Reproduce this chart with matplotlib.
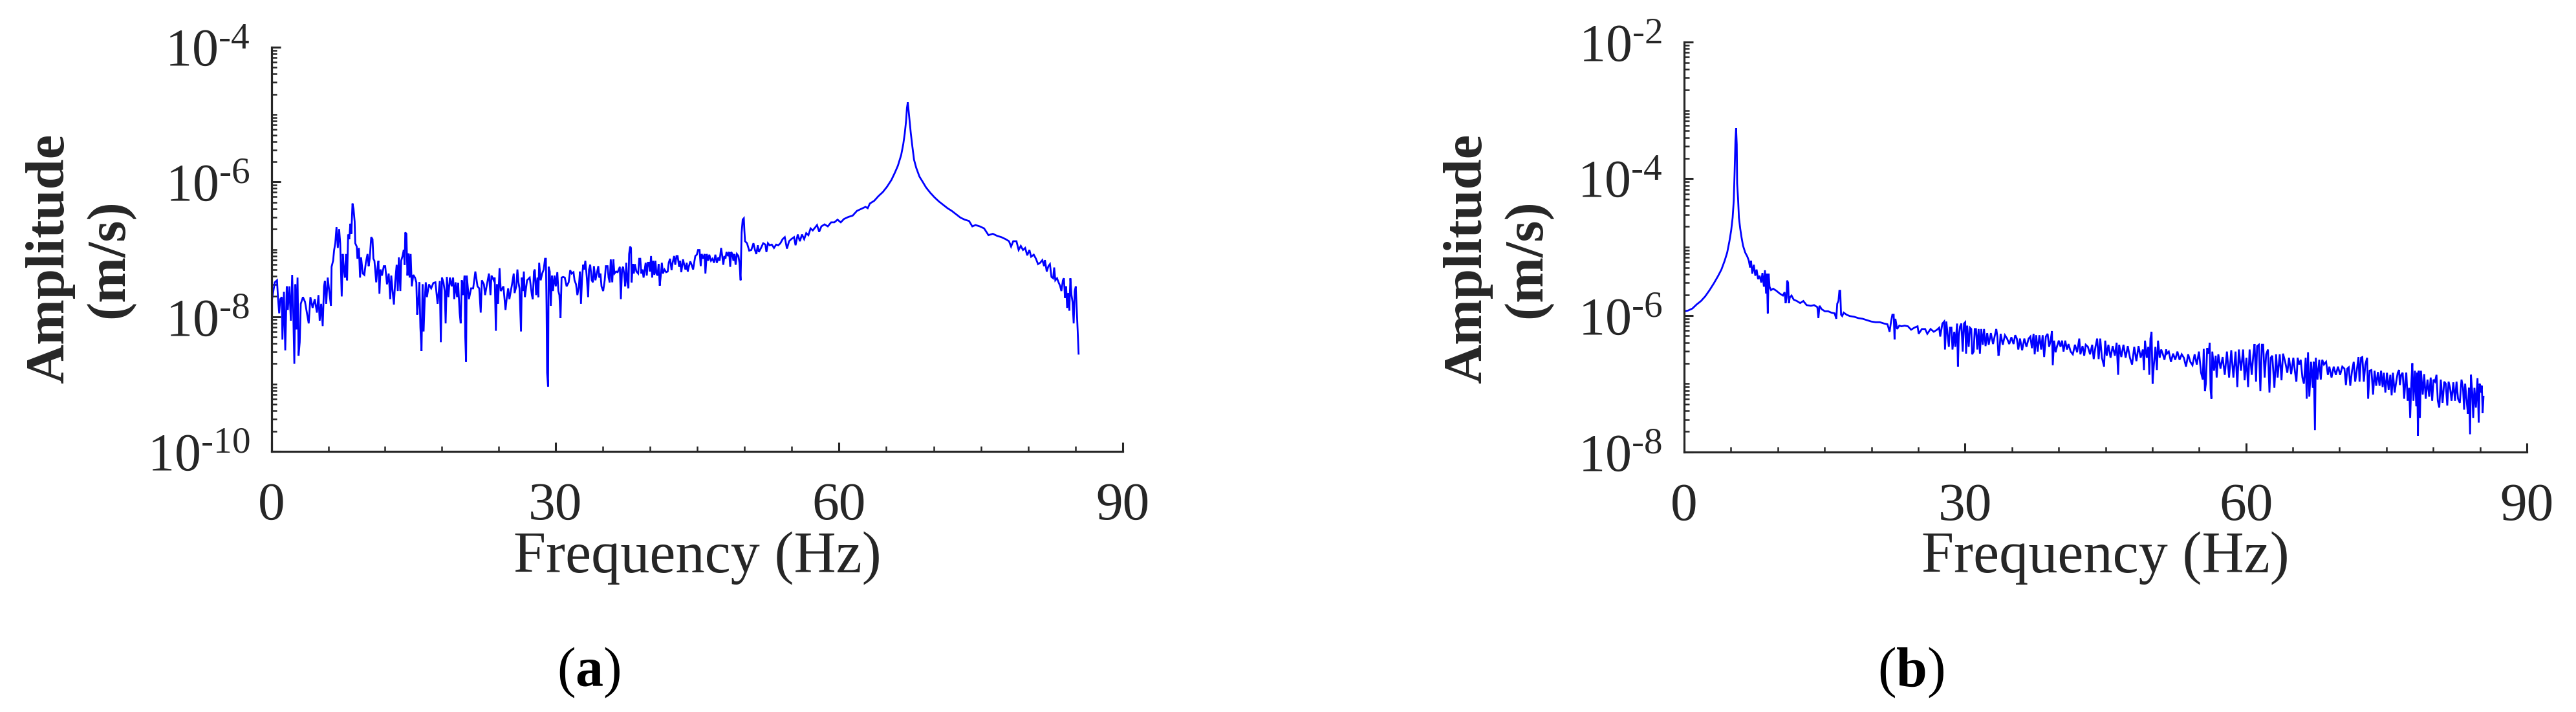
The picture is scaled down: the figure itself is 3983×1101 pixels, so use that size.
import numpy as np
import matplotlib
matplotlib.use("Agg")
import matplotlib.pyplot as plt
from matplotlib.ticker import LogLocator, FixedLocator, NullFormatter

# ---------------- data ----------------
# Panel (a): frequency (Hz) and log10 of amplitude (m/s)
a_freq = [
    0.00, 0.11, 0.34, 0.57, 0.68, 0.80, 0.91, 1.07, 1.14, 1.30, 1.44, 1.60, 1.71, 1.87, 2.03, 2.17,
    2.28, 2.40, 2.51, 2.62, 2.74, 2.85, 2.97, 3.08, 3.31, 3.53, 3.76, 3.92, 4.10, 4.33, 4.56, 4.79,
    4.95, 5.08, 5.24, 5.40, 5.54, 5.63, 5.77, 5.93, 6.09, 6.27, 6.34, 6.50, 6.61, 6.73, 6.86, 7.00,
    7.14, 7.25, 7.41, 7.52, 7.64, 7.75, 7.86, 7.98, 8.09, 8.21, 8.32, 8.43, 8.55, 8.66, 8.78, 8.84,
    9.00, 9.07, 9.23, 9.35, 9.46, 9.64, 9.80, 9.96, 10.14, 10.26, 10.37, 10.53, 10.67, 10.76, 10.87,
    11.06, 11.17, 11.29, 11.40, 11.51, 11.67, 11.86, 12.01, 12.20, 12.38, 12.54, 12.65, 12.79, 12.93,
    13.06, 13.22, 13.34, 13.45, 13.61, 13.70, 13.84, 13.97, 14.07, 14.13, 14.25, 14.36, 14.48, 14.59,
    14.70, 14.82, 14.98, 15.16, 15.30, 15.39, 15.53, 15.62, 15.73, 15.85, 15.96, 16.07, 16.19, 16.30,
    16.42, 16.64, 16.87, 17.10, 17.32, 17.55, 17.78, 17.89, 18.01, 18.17, 18.30, 18.40, 18.53, 18.69,
    18.85, 19.04, 19.19, 19.31, 19.45, 19.61, 19.72, 19.88, 19.99, 20.11, 20.24, 20.40, 20.47, 20.56,
    20.63, 20.86, 21.09, 21.31, 21.54, 21.77, 21.95, 22.11, 22.23, 22.45, 22.57, 22.73, 22.98, 23.14,
    23.25, 23.48, 23.59, 23.71, 23.82, 23.94, 24.10, 24.23, 24.51, 24.73, 24.85, 25.01, 25.14, 25.42,
    25.60, 25.69, 25.87, 25.99, 26.10, 26.21, 26.37, 26.46, 26.56, 26.67, 26.78, 27.01, 27.29, 27.52,
    27.61, 27.74, 27.83, 27.97, 28.11, 28.20, 28.29,
    28.45, 28.61, 28.77, 28.91, 29.00, 29.07, 29.13, 29.23, 29.29, 29.41, 29.52, 29.64, 29.75, 29.91,
    30.05, 30.21, 30.32, 30.43, 30.55, 30.66, 30.82, 31.00, 31.19, 31.41, 31.57, 31.73, 31.92, 32.03,
    32.19, 32.33, 32.49, 32.60, 32.71, 32.83, 32.94, 33.06, 33.17, 33.33, 33.47, 33.56, 33.69, 33.85,
    33.97, 34.08, 34.24, 34.38, 34.54, 34.65, 34.77, 34.88, 35.06, 35.22, 35.34, 35.52, 35.63, 35.75,
    35.86, 36.02, 36.13, 36.25, 36.43, 36.59, 36.82, 36.93, 37.05, 37.16, 37.27, 37.39, 37.50, 37.62,
    37.73, 37.80, 37.91, 38.00, 38.07, 38.19, 38.30, 38.41, 38.57, 38.76, 38.87, 38.98, 39.10, 39.21,
    39.33, 39.55, 39.67, 39.78, 39.90, 40.01, 40.12, 40.24, 40.35, 40.47, 40.58, 40.69, 40.81, 40.92,
    41.04, 41.15, 41.26, 41.38, 41.54, 41.72, 41.88, 41.99, 42.13, 42.29, 42.40, 42.56, 42.68, 42.81,
    42.93, 43.09, 43.20, 43.32, 43.50, 43.66, 43.77, 43.89, 44.00, 44.11, 44.27, 44.41, 44.57, 44.68,
    44.80, 44.96, 45.09, 45.25, 45.37, 45.48, 45.64, 45.78, 45.87, 46.01, 46.17, 46.28, 46.46, 46.62,
    46.78, 46.92, 47.08, 47.24, 47.37, 47.53, 47.65, 47.76, 47.88, 47.99, 48.10, 48.26, 48.38, 48.49,
    48.60, 48.72, 48.83, 48.95, 49.06, 49.20, 49.36, 49.47, 49.59, 49.65, 49.70, 49.81, 49.93, 49.99,
    50.06, 50.27, 50.50, 50.72, 50.95, 51.11, 51.25, 51.41, 51.52, 51.75, 51.98, 52.21, 52.32, 52.48,
    52.66, 52.89, 53.12, 53.35, 53.58, 53.80, 54.03, 54.26, 54.49, 54.72, 54.94, 55.24, 55.40, 55.63,
    55.86, 56.08, 56.31,
    56.53, 56.76, 56.99, 57.22, 57.45, 57.67, 57.90, 58.13, 58.47, 58.81, 59.16, 59.50, 59.84, 60.18,
    60.52, 60.98, 61.44, 61.89, 62.35, 62.80, 63.03, 63.26, 63.72, 64.17, 64.63, 65.08, 65.54, 65.88,
    66.22, 66.57, 66.79, 66.95, 67.09, 67.18, 67.27, 67.36, 67.46, 67.59, 67.75, 67.93, 68.16, 68.50,
    68.85, 69.19, 69.64, 70.10, 70.56, 71.01, 71.47, 71.92, 72.38, 72.84, 73.29, 73.75, 74.09, 74.43,
    74.89, 75.34, 75.80, 76.26, 76.71, 77.17, 77.62, 77.97, 78.19, 78.42, 78.76, 78.99, 79.22, 79.45,
    79.68, 79.90, 80.13, 80.31, 80.59, 80.82, 81.04, 81.27, 81.50, 81.68, 81.77, 81.96, 82.14, 82.30,
    82.46, 82.64, 82.75, 82.87, 83.05, 83.21, 83.37, 83.51, 83.67, 83.78, 83.89, 84.01, 84.12, 84.24,
    84.35, 84.46, 84.58, 84.69, 84.81, 84.92, 85.03, 85.15, 85.24, 85.33,
]
a_log10_amp = [
    -7.78, -7.68, -7.49, -7.46, -7.74, -7.95, -7.74, -7.71, -8.34, -7.63, -8.50, -7.55, -7.90, -7.55, -8.06, -7.38,
    -7.90, -8.70, -7.52, -8.19, -7.42, -8.58, -8.38, -7.81, -7.71, -7.78, -7.97, -8.10, -7.71, -7.87, -7.74, -7.94,
    -7.68, -8.06, -7.81, -8.14, -7.55, -7.47, -7.81, -7.42, -7.62, -7.84, -7.26, -7.17, -7.01, -6.91, -6.67, -6.98,
    -6.70, -6.91, -7.70, -7.07, -7.30, -7.42, -7.07, -7.46, -6.78, -6.85, -6.62, -6.77, -6.32, -6.40, -6.59, -6.91,
    -6.96, -7.14, -6.98, -7.42, -7.12, -7.36, -7.38, -7.20, -7.07, -7.25, -7.14, -6.82, -6.85, -7.14, -7.17,
    -7.49, -7.30, -7.17, -7.66, -7.30, -7.39, -7.25, -7.25, -7.52, -7.36, -7.74, -7.39, -7.62, -7.82,
    -7.49, -7.23, -7.62, -7.12, -7.62, -7.17, -7.10, -7.01, -7.23, -6.75, -6.77, -7.39, -7.06, -7.42,
    -7.07, -7.55, -7.38, -7.42, -7.49, -7.97, -7.74, -7.49, -8.16, -8.51, -7.52, -8.22, -7.74, -7.49,
    -7.71, -7.52, -7.58, -7.50, -7.49, -7.81, -7.47, -8.38, -7.42, -7.49, -7.62, -8.10, -7.41, -7.71,
    -7.42, -7.55, -7.42, -7.74, -7.49, -7.71, -7.50, -7.94, -8.10, -7.46, -7.68, -7.39, -8.29, -8.67,
    -7.39, -7.74, -7.58, -7.58, -7.33, -7.55, -7.58, -7.94, -7.46, -7.52, -7.68, -7.55, -7.36, -7.68,
    -7.39, -7.46, -7.42, -8.21, -7.52, -7.81, -7.28, -7.62, -7.55, -7.90, -7.74, -7.58, -7.74, -7.52,
    -7.36, -7.65, -7.55, -7.30, -7.49, -7.58, -8.22, -7.42, -7.62, -7.33, -7.71, -7.46, -7.42, -7.68,
    -7.74, -7.33, -7.30, -7.68, -7.42, -7.71, -7.20,
    -7.46, -7.36, -7.30, -7.14, -7.14, -7.84, -8.83, -9.04, -7.26, -7.33, -7.84, -7.39, -7.62, -7.39,
    -7.55, -7.34, -7.62, -7.68, -8.02, -7.42, -7.41, -7.42, -7.55, -7.49, -7.31, -7.36, -7.34, -7.46,
    -7.52, -7.68, -7.55, -7.33, -7.81, -7.42, -7.23, -7.30, -7.17, -7.42, -7.71, -7.30, -7.23, -7.46,
    -7.49, -7.25, -7.46, -7.36, -7.25, -7.42, -7.36, -7.55, -7.62, -7.46, -7.25, -7.25, -7.42, -7.49,
    -7.15, -7.49, -7.15, -7.36, -7.33, -7.34, -7.26, -7.74, -7.30, -7.26, -7.36, -7.55, -7.20, -7.49,
    -7.58, -7.07, -6.96, -6.98, -7.49, -7.22, -7.36, -7.22, -7.33, -7.36, -7.14, -7.14, -7.36, -7.30,
    -7.42, -7.20, -7.39, -7.20, -7.20, -7.33, -7.10, -7.42, -7.17, -7.38, -7.17, -7.36, -7.39, -7.22,
    -7.54, -7.39, -7.20, -7.36, -7.30, -7.34, -7.33, -7.20, -7.14, -7.31, -7.20, -7.10, -7.23, -7.10,
    -7.10, -7.26, -7.17, -7.34, -7.15, -7.25, -7.30, -7.20, -7.33, -7.26, -7.18, -7.23, -7.30, -7.20,
    -7.10, -7.08, -7.01, -7.01, -7.25, -7.07, -7.14, -7.07, -7.36, -7.07, -7.17, -7.08, -7.17, -7.14,
    -7.20, -7.08, -7.20, -7.12, -7.17, -6.98, -7.10, -7.23, -7.10, -7.14, -7.04, -7.10, -7.04, -7.26,
    -7.04, -7.07, -7.17, -7.07, -7.23, -7.07, -7.10, -7.20, -7.46, -7.04, -6.75, -6.56, -6.54, -6.72,
    -6.88, -6.91, -7.02, -7.01, -6.91, -7.01, -7.07, -6.94, -7.04, -6.98, -6.91, -6.93, -7.04, -6.91,
    -6.94, -6.93, -6.98, -6.93, -6.94, -6.91, -6.85, -6.82, -6.99, -6.88, -6.85, -6.82, -6.94, -6.78,
    -6.88, -6.78, -6.85,
    -6.76, -6.79, -6.69, -6.72, -6.68, -6.64, -6.74, -6.66, -6.63, -6.66, -6.60, -6.60, -6.56, -6.60,
    -6.55, -6.52, -6.50, -6.43, -6.40, -6.37, -6.39, -6.32, -6.28, -6.21, -6.15, -6.07, -5.97, -5.87,
    -5.76, -5.60, -5.44, -5.28, -5.09, -4.90, -4.82, -4.95, -5.09, -5.28, -5.47, -5.67, -5.79, -5.92,
    -6.00, -6.08, -6.16, -6.23, -6.29, -6.34, -6.39, -6.43, -6.48, -6.53, -6.56, -6.58, -6.66, -6.64,
    -6.66, -6.69, -6.79, -6.77, -6.80, -6.82, -6.85, -6.88, -6.96, -6.88, -6.88, -7.01, -6.95, -7.01,
    -6.98, -7.09, -7.01, -7.11, -7.08, -7.14, -7.22, -7.20, -7.16, -7.25, -7.16, -7.33, -7.25, -7.22,
    -7.41, -7.43, -7.27, -7.46, -7.43, -7.49, -7.54, -7.62, -7.46, -7.43, -7.72, -7.55, -7.87, -7.65,
    -7.91, -7.43, -7.68, -7.78, -8.10, -7.62, -7.55, -7.94, -8.23, -8.55,
]

# Panel (b): frequency (Hz) and log10 of amplitude (m/s)
b_freq = [
    0.00, 0.41, 0.88, 1.34, 1.80, 2.26, 2.72, 3.18, 3.64, 3.98, 4.33, 4.60, 4.83, 5.02, 5.18, 5.30,
    5.39, 5.48, 5.55, 5.62, 5.66, 5.76, 5.85, 5.99, 6.12, 6.29, 6.52, 6.75, 6.91, 7.04, 7.14, 7.28,
    7.44, 7.60, 7.74, 7.90, 8.06, 8.24, 8.36, 8.52, 8.63, 8.75, 8.84, 8.93, 9.03, 9.12, 9.28, 9.51,
    9.85, 10.20, 10.55, 10.73, 10.84, 10.94, 11.00, 11.10, 11.19, 11.28, 11.47, 11.70, 12.04, 12.39,
    12.73, 13.08, 13.54, 13.88, 14.23, 14.34, 14.46, 14.69, 15.03, 15.38, 15.72, 16.07, 16.25, 16.35,
    16.48, 16.58, 16.67, 16.76, 16.88, 17.04, 17.34, 17.68, 18.14, 18.60, 19.06, 19.52, 19.98, 20.44,
    20.90, 21.37, 21.71, 21.78,
    21.94, 22.10, 22.24, 22.38, 22.47, 22.56, 22.75, 22.98, 23.21, 23.55, 23.90, 24.24, 24.59, 24.93,
    25.05, 25.39, 25.74, 25.97, 26.32, 26.66, 27.01, 27.24, 27.35, 27.58, 27.77, 27.86, 28.00, 28.11,
    28.27, 28.39, 28.55, 28.66, 28.85, 28.96, 29.15, 29.24, 29.33, 29.47, 29.61, 29.75, 29.89, 30.02,
    30.11, 30.23, 30.39, 30.53, 30.67, 30.76, 30.92, 31.04, 31.17, 31.31, 31.45, 31.59, 31.73, 31.89,
    32.03, 32.19, 32.37, 32.53, 32.76, 32.99, 33.22, 33.34, 33.45, 33.57, 33.68, 33.80, 34.03, 34.26,
    34.49, 34.72, 34.95, 35.18, 35.36, 35.53, 35.69, 35.87, 36.10, 36.33, 36.56, 36.79, 36.98, 37.14,
    37.32, 37.44, 37.60, 37.76, 37.94, 38.13, 38.29, 38.45, 38.63, 38.82, 38.98, 39.14, 39.28, 39.37,
    39.51, 39.67, 39.83, 40.01, 40.20, 40.36, 40.52, 40.70, 40.89, 41.05, 41.28, 41.51, 41.74, 41.97,
    42.20, 42.32, 42.55, 42.73, 42.89, 43.12, 43.35, 43.58, 43.74, 43.93, 44.11, 44.27, 44.44, 44.62,
    44.85, 44.97, 45.13, 45.31, 45.54, 45.77, 46.00, 46.19, 46.35, 46.46, 46.69, 46.92, 47.15, 47.38,
    47.61, 47.84, 48.07, 48.30, 48.53, 48.76, 48.99, 49.11, 49.22, 49.41, 49.57, 49.68, 49.80, 49.92,
    50.03, 50.15, 50.33, 50.49, 50.61, 50.79, 50.95, 51.11, 51.30, 51.48,
    51.57, 51.76, 51.99, 52.22, 52.45, 52.68, 52.91, 53.14, 53.37, 53.60, 53.83, 54.06, 54.29, 54.52,
    54.75, 54.98, 55.21, 55.39, 55.49, 55.62, 55.72, 55.86, 56.02, 56.13, 56.22, 56.31, 56.41, 56.59,
    56.77, 56.87, 57.05, 57.28, 57.51, 57.74, 57.97, 58.20, 58.43, 58.66, 58.89, 59.08, 59.24, 59.47,
    59.70, 59.86, 60.05, 60.23, 60.39, 60.62, 60.78, 60.92, 61.08, 61.19, 61.38, 61.54, 61.70, 61.84,
    62.00, 62.16, 62.35, 62.51, 62.65, 62.81, 63.04, 63.22, 63.38, 63.61, 63.80, 63.96, 64.19, 64.42,
    64.60, 64.83, 65.06, 65.25, 65.39, 65.52, 65.69, 65.85, 66.03, 66.19, 66.38, 66.49, 66.63, 66.77,
    66.95, 67.14, 67.23, 67.37, 67.46, 67.64, 67.83, 67.99, 68.15, 68.33, 68.56, 68.75, 68.91, 69.14,
    69.37, 69.60, 69.83, 70.06, 70.29, 70.52, 70.68, 70.82, 70.98, 71.14, 71.33, 71.51, 71.67, 71.83,
    72.02, 72.13, 72.29, 72.43, 72.59, 72.75, 72.94, 73.05, 73.21, 73.40, 73.58, 73.74, 73.91, 74.09,
    74.27, 74.43, 74.60, 74.73, 74.89, 75.06, 75.24, 75.42, 75.56, 75.70, 75.88, 76.05, 76.21, 76.35,
    76.44, 76.58, 76.74, 76.90, 77.04, 77.13, 77.27, 77.43, 77.54, 77.66, 77.77, 77.89, 78.05, 78.19,
    78.28, 78.37, 78.46, 78.58, 78.69, 78.88, 79.04, 79.20, 79.39, 79.57, 79.73, 79.89, 80.03, 80.19,
    80.35, 80.49, 80.65, 80.81, 81.00, 81.18, 81.34, 81.50, 81.64, 81.80, 81.96, 82.15, 82.33, 82.49,
    82.65, 82.84, 83.02, 83.18, 83.30, 83.41, 83.57, 83.71, 83.81, 83.94, 84.03, 84.17, 84.27, 84.40,
    84.56, 84.73, 84.86, 84.96, 85.09, 85.19, 85.28, 85.37,
]
b_log10_amp = [
    -5.94, -5.93, -5.90, -5.84, -5.79, -5.72, -5.63, -5.53, -5.42, -5.33, -5.20, -5.08, -4.92, -4.76, -4.57, -4.32,
    -3.91, -3.44, -3.26, -3.50, -4.07, -4.29, -4.57, -4.73, -4.85, -4.98, -5.08, -5.14, -5.20, -5.30, -5.20, -5.39,
    -5.26, -5.42, -5.33, -5.47, -5.42, -5.52, -5.38, -5.58, -5.34, -5.68, -5.39, -5.97, -5.39, -5.58, -5.63, -5.61,
    -5.64, -5.68, -5.71, -5.66, -5.82, -5.74, -5.49, -5.52, -5.82, -5.74, -5.71, -5.77, -5.79, -5.82,
    -5.79, -5.85, -5.86, -5.85, -5.88, -6.04, -5.86, -5.91, -5.94, -5.94, -5.96, -5.97, -6.05, -5.83,
    -5.79, -5.64, -5.64, -5.99, -6.01, -5.96, -5.99, -6.01, -6.02, -6.04, -6.05, -6.07, -6.09, -6.10,
    -6.10, -6.12, -6.13, -6.16,
    -6.24, -6.09, -5.99, -5.99, -6.35, -6.05, -6.20, -6.15, -6.16, -6.15, -6.16, -6.21, -6.18, -6.16,
    -6.27, -6.20, -6.20, -6.27, -6.20, -6.24, -6.21, -6.18, -6.31, -6.12, -6.09, -6.50, -6.09, -6.24,
    -6.46, -6.18, -6.18, -6.50, -6.24, -6.46, -6.12, -6.75, -6.31, -6.16, -6.12, -6.53, -6.12, -6.10,
    -6.56, -6.15, -6.46, -6.18, -6.20, -6.57, -6.53, -6.20, -6.20, -6.50, -6.20, -6.56, -6.20, -6.43,
    -6.20, -6.45, -6.26, -6.43, -6.26, -6.42, -6.27, -6.20, -6.31, -6.59, -6.50, -6.27, -6.43, -6.29,
    -6.34, -6.42, -6.32, -6.42, -6.29, -6.34, -6.50, -6.34, -6.51, -6.34, -6.46, -6.34, -6.31, -6.48,
    -6.27, -6.57, -6.29, -6.53, -6.29, -6.50, -6.29, -6.61, -6.31, -6.27, -6.46, -6.37, -6.23, -6.73,
    -6.37, -6.54, -6.45, -6.37, -6.46, -6.37, -6.53, -6.37, -6.50, -6.42, -6.53, -6.57, -6.43, -6.54,
    -6.34, -6.57, -6.45, -6.59, -6.43, -6.46, -6.57, -6.43, -6.64, -6.46, -6.34, -6.64, -6.34, -6.62,
    -6.75, -6.37, -6.59, -6.43, -6.62, -6.45, -6.59, -6.40, -6.87, -6.43, -6.61, -6.43, -6.62, -6.45,
    -6.62, -6.72, -6.46, -6.67, -6.45, -6.62, -6.50, -6.80, -6.37, -6.62, -6.46, -6.87, -6.34, -6.24,
    -7.00, -6.75, -6.46, -6.80, -6.37, -6.62, -6.50, -6.56, -6.65, -6.50,
    -6.56, -6.53, -6.68, -6.56, -6.65, -6.53, -6.65, -6.57, -6.62, -6.75, -6.57, -6.68, -6.73, -6.57,
    -6.72, -6.53, -6.84, -6.94, -6.49, -7.11, -7.00, -6.48, -6.56, -6.40, -7.08, -7.22, -6.53, -6.81,
    -6.59, -6.91, -6.57, -6.78, -6.61, -6.87, -6.53, -6.91, -6.51, -6.91, -6.53, -7.05, -6.50, -6.81,
    -6.50, -6.95, -6.62, -7.05, -6.50, -6.87, -6.59, -6.42, -6.97, -6.45, -6.43, -7.11, -6.43, -6.43,
    -6.91, -6.57, -6.50, -7.13, -6.62, -6.59, -7.06, -6.57, -6.91, -6.57, -6.95, -6.56, -6.68, -6.84,
    -6.62, -6.86, -6.62, -6.84, -6.97, -6.62, -6.72, -6.65, -6.91, -7.00, -6.62, -7.22, -6.54, -7.19,
    -6.68, -7.06, -6.68, -7.68, -6.62, -6.94, -6.65, -6.94, -6.65, -6.72, -6.68, -6.87, -6.75, -6.91,
    -6.75, -6.87, -6.75, -6.87, -6.75, -6.78, -7.02, -6.78, -6.76, -7.03, -6.81, -6.68, -6.97, -6.81,
    -6.61, -6.97, -6.62, -6.61, -6.97, -6.72, -6.62, -7.22, -6.81, -6.80, -7.16, -6.81, -7.03, -6.83,
    -7.03, -6.81, -7.05, -6.84, -7.13, -6.84, -7.09, -6.87, -7.17, -6.84, -7.13, -6.97, -6.84, -6.80,
    -7.02, -6.87, -6.84, -7.22, -6.94, -6.84, -7.25, -7.06, -7.50, -7.00, -6.70, -7.25, -6.81, -7.33,
    -6.84, -7.76, -6.81, -7.50, -6.81, -7.16, -6.86, -7.22, -6.94, -7.19, -6.91, -7.25, -6.94, -6.97,
    -6.87, -7.25, -7.35, -6.94, -7.28, -6.97, -7.00, -7.32, -6.97, -7.06, -7.25, -6.98, -7.25, -6.97,
    -7.22, -7.28, -6.94, -7.06, -7.38, -7.00, -7.25, -7.44, -7.06, -7.74, -6.87, -7.13, -7.50, -7.06,
    -7.35, -6.92, -7.57, -7.00, -7.13, -7.03, -7.43, -7.19,
]

x_major_ticks = [0, 30, 60, 90]
a_x_minor_ticks = [6, 12, 18, 24, 35, 40, 45, 50, 55, 65, 70, 75, 80, 85]
b_x_minor_ticks = [5, 10, 15, 20, 25, 35, 40, 45, 50, 55, 65, 70, 75, 80, 85]
a_y_tick_exps = [-4, -6, -8, -10]
b_y_tick_exps = [-2, -4, -6, -8]
x_label = "Frequency (Hz)"
y_label = "Amplitude\n(m/s)"
panel_letters = ["a", "b"]

# ---------------- style ----------------
plt.rcParams["font.family"] = ["Liberation Serif", "DejaVu Serif"]
plt.rcParams["mathtext.fontset"] = "custom"
plt.rcParams["mathtext.rm"] = "Liberation Serif"
plt.rcParams["mathtext.it"] = "Liberation Serif:italic"
plt.rcParams["mathtext.bf"] = "Liberation Serif:bold"
plt.rcParams["axes.unicode_minus"] = False

TXT = "#262626"
DPI = 100
fig = plt.figure(figsize=(3983 / DPI, 1101 / DPI), dpi=DPI)

W, H = 3983.0, 1101.0
# axes boxes in pixels (left, top, right, bottom)
boxes = [(420, 73, 1736, 698), (2604, 65, 3907, 699)]
ylims = [(1e-10, 1e-4), (1e-8, 1e-2)]
freqs = [a_freq, b_freq]
logamps = [a_log10_amp, b_log10_amp]
minors = [a_x_minor_ticks, b_x_minor_ticks]
ytexps = [a_y_tick_exps, b_y_tick_exps]
ylab_x = [124, 2316]
panel_x = [910, 2955]

for i in range(2):
    l, t, r, b = boxes[i]
    ax = fig.add_axes([l / W, 1 - b / H, (r - l) / W, (b - t) / H])
    amp = np.power(10.0, np.array(logamps[i]))
    ax.plot(freqs[i], amp, color=(0, 0, 1), lw=2.0, solid_joinstyle="miter")
    ax.set_yscale("log")
    ax.set_xlim(0, 90)
    ax.set_ylim(*ylims[i])

    for s in ("top", "right"):
        ax.spines[s].set_visible(False)
    for s in ("left", "bottom"):
        ax.spines[s].set_linewidth(2.3)
        ax.spines[s].set_color(TXT)

    ax.set_xticks(x_major_ticks)
    ax.set_xticklabels([str(v) for v in x_major_ticks])
    ax.xaxis.set_minor_locator(FixedLocator(minors[i]))
    ax.set_yticks([10.0 ** e for e in ytexps[i]])
    ax.set_yticklabels([r"$\mathdefault{10^{\text{-}%d}}$" % (-e) for e in ytexps[i]])
    ax.yaxis.set_minor_locator(LogLocator(base=10, subs=np.arange(1, 10), numticks=100))
    ax.yaxis.set_minor_formatter(NullFormatter())

    ax.tick_params(which="both", direction="in", top=False, right=False, color=TXT)
    ax.tick_params(which="major", length=10, width=2.2)
    ax.tick_params(which="minor", length=5.5, width=1.8)
    ax.tick_params(axis="x", which="major", labelsize=60, labelcolor=TXT, pad=34)
    ax.tick_params(axis="y", which="major", labelsize=59, labelcolor=TXT, pad=24)

    # x label
    fig.text(((l + r) / 2) / W, 1 - 885 / H, x_label, ha="center", va="baseline",
             fontsize=65, color=TXT)
    # y label (two lines, bold)
    fig.text(ylab_x[i] / W, 1 - 400 / H, y_label, ha="center", va="center",
             rotation=90, fontsize=61, fontweight="bold", color=TXT,
             multialignment="center", linespacing=1.25)
    # panel letter
    fig.text(panel_x[i] / W, 1 - 1040 / H, r"($\mathbf{%s}$)" % panel_letters[i],
             ha="center", va="center", fontsize=62, color="black")

fig.savefig("out.png", dpi=DPI)
